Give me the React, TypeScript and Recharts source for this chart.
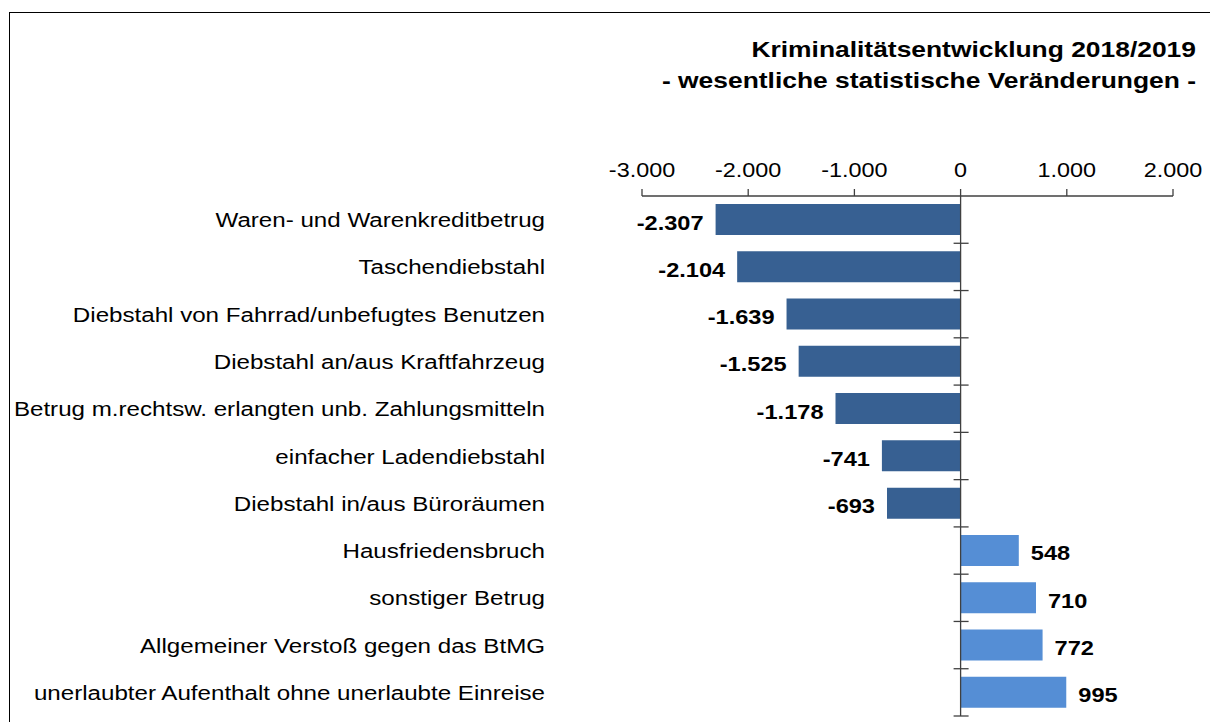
import { BarChart, Bar, XAxis, YAxis, Cell, ReferenceLine, LabelList } from 'recharts';

const categories = [
  'Waren- und Warenkreditbetrug',
  'Taschendiebstahl',
  'Diebstahl von Fahrrad/unbefugtes Benutzen',
  'Diebstahl an/aus Kraftfahrzeug',
  'Betrug m.rechtsw. erlangten unb. Zahlungsmitteln',
  'einfacher Ladendiebstahl',
  'Diebstahl in/aus Büroräumen',
  'Hausfriedensbruch',
  'sonstiger Betrug',
  'Allgemeiner Verstoß gegen das BtMG',
  'unerlaubter Aufenthalt ohne unerlaubte Einreise',
];

const changes = [-2307, -2104, -1639, -1525, -1178, -741, -693, 548, 710, 772, 995];

const xTicks = [-3000, -2000, -1000, 0, 1000, 2000];

const titleLines = ['Kriminalitätsentwicklung 2018/2019', '- wesentliche statistische Veränderungen -'];

const data = categories.map((name, i) => ({ name, value: changes[i] }));

const FONT = '"Liberation Sans", Arial, Helvetica, sans-serif';
const AXIS = '#404040';
const NEG = '#376092';
const POS = '#558ED5';

// German number format: thousands separated by "."
const fmt = (v: number) => {
  const s = Math.abs(v).toString().replace(/\B(?=(\d{3})+(?!\d))/g, '.');
  return (v < 0 ? '-' : '') + s;
};

const XTick = (props: any) => {
  const { x, y, payload } = props;
  return (
    <g transform={`translate(${x},${y})`}>
      <text textAnchor="middle" fontSize={19.5} fontFamily={FONT} fill="#000" transform="scale(1.2,1)">
        {fmt(payload.value)}
      </text>
    </g>
  );
};

const YTick = (props: any) => {
  const { x, y, payload } = props;
  return (
    <g transform={`translate(${x},${y})`}>
      <text textAnchor="end" dy={7.5} fontSize={21} fontFamily={FONT} fill="#000" transform="scale(1.15,1)">
        {payload.value}
      </text>
    </g>
  );
};

const ValueLabel = (props: any) => {
  const vb = props.viewBox || {};
  const x = props.x ?? vb.x;
  const y = props.y ?? vb.y;
  const w = props.width ?? vb.width;
  const h = props.height ?? vb.height;
  const v = Number(props.value);
  const left = Math.min(x, x + w);
  const right = Math.max(x, x + w);
  const cy = y + h / 2 + 10;
  const neg = v < 0;
  return (
    <g transform={`translate(${neg ? left - 12 : right + 12},${cy})`}>
      <text
        textAnchor={neg ? 'end' : 'start'}
        fontSize={20}
        fontWeight="bold"
        fontFamily={FONT}
        fill="#000"
        transform="scale(1.18,1)"
      >
        {fmt(v)}
      </text>
    </g>
  );
};

// zero line with small tick marks between the categories
const ZeroLine = (props: any) => {
  const { x1, y1, x2, y2 } = props;
  const top = Math.min(y1, y2);
  const bottom = Math.max(y1, y2);
  const step = (bottom - top) / categories.length;
  return (
    <g>
      <line x1={x1} y1={top} x2={x2} y2={bottom} stroke={AXIS} strokeWidth={1.3} />
      {categories.map((_, i) => (
        <line
          key={i}
          x1={x1 - 7}
          x2={x1 + 8}
          y1={top + step * (i + 1)}
          y2={top + step * (i + 1)}
          stroke={AXIS}
          strokeWidth={1.3}
        />
      ))}
    </g>
  );
};

export default function App() {
  return (
    <div
      style={{
        position: 'fixed',
        left: 9,
        top: 12,
        width: 1201,
        height: 710,
        overflow: 'hidden',
        borderTop: '1px solid #000',
        borderLeft: '1px solid #000',
        background: '#fff',
        fontFamily: FONT,
      }}
    >
      <div style={{ position: 'absolute', left: 0, top: 21, width: 1186 }}>
        {titleLines.map((t) => (
          <div
            key={t}
            style={{
              fontSize: 22,
              fontWeight: 'bold',
              lineHeight: '31px',
              textAlign: 'right',
              whiteSpace: 'nowrap',
              transform: 'scale(1.2,1)',
              transformOrigin: 'right center',
              color: '#000',
            }}
          >
            {t}
          </div>
        ))}
      </div>
      <BarChart
        width={1200}
        height={709}
        data={data}
        layout="vertical"
        margin={{ top: 133, right: 37, left: 0, bottom: 6 }}
      >
        <XAxis
          type="number"
          orientation="top"
          domain={[-3000, 2000]}
          ticks={xTicks}
          height={50}
          axisLine={{ stroke: AXIS, strokeWidth: 1.3 }}
          tickLine={{ stroke: AXIS, strokeWidth: 1.3 }}
          tickSize={7}
          tickMargin={12}
          tick={(p: any) => <XTick {...p} />}
        />
        <YAxis
          type="category"
          dataKey="name"
          width={632}
          axisLine={false}
          tickLine={false}
          tickSize={0}
          tickMargin={97}
          interval={0}
          tick={(p: any) => <YTick {...p} />}
        />
        <Bar dataKey="value" barSize={31} isAnimationActive={false}>
          {data.map((d, i) => (
            <Cell key={i} fill={d.value < 0 ? NEG : POS} />
          ))}
          <LabelList dataKey="value" content={(p: any) => <ValueLabel {...p} />} />
        </Bar>
        <ReferenceLine x={0} shape={(p: any) => <ZeroLine {...p} />} />
      </BarChart>
    </div>
  );
}
